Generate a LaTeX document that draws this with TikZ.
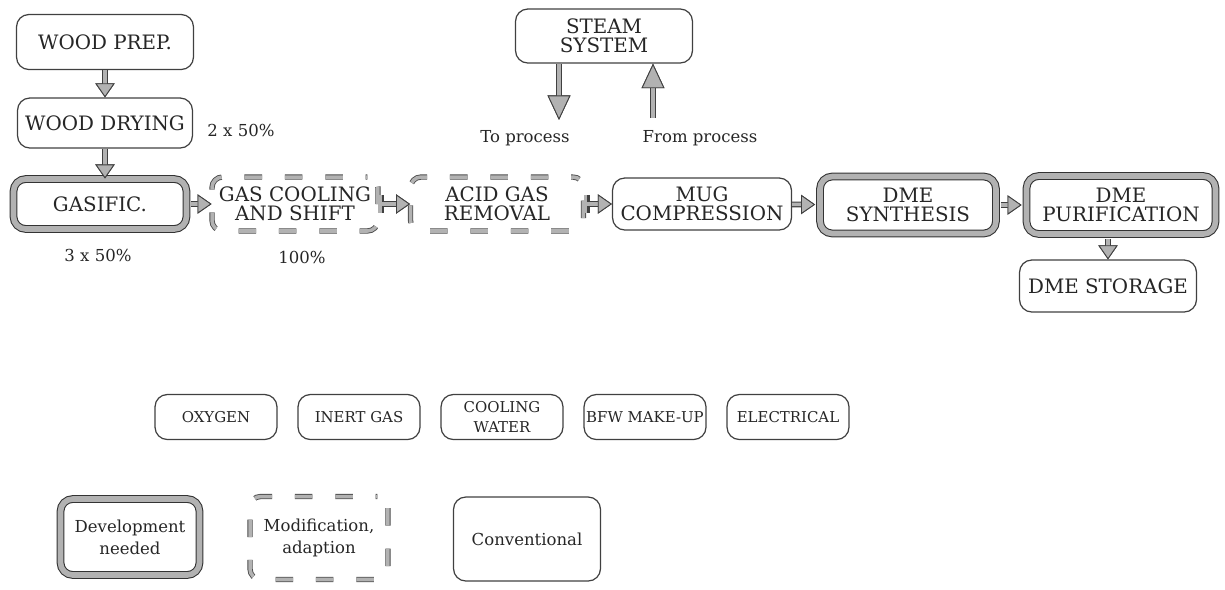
\documentclass[tikz,border=0pt]{standalone}
\usepackage{fontspec}
\setmainfont{DejaVu Serif}
\usetikzlibrary{arrows.meta}

\newcommand{\boxtxt}{\fontsize{11.3}{10.8}\selectfont}
\newcommand{\plaintxt}{\fontsize{9.4}{12.5}\selectfont}
\newcommand{\utiltxt}{\fontsize{8.5}{11}\selectfont}

\begin{document}
\begin{tikzpicture}[x=0.02cm, y=-0.02cm,
        every node/.style={font=\plaintxt, text=black!85},
        box/.style={draw=black!75, line width=0.7pt, rounded corners=7pt, align=center, inner sep=0pt, font=\boxtxt},
        devbox/.style={box, draw=black!80, line width=0.6pt, double=gray!60, double distance=3.2pt},
        modbox/.style={box, draw=black!70, line width=0.5pt, double=gray!60, double distance=2pt,
            rounded corners=6pt, dash pattern=on 10pt off 13pt, dash phase=9pt},
        utilbox/.style={box, font=\utiltxt, minimum width=2.44cm, minimum height=0.9cm},
        fatarrow/.style={->, >={Triangle[length=8pt, width=11pt, fill=gray!60, color=black!75, line width=0.5pt]},
            draw=gray!60, line width=2pt, preaction={draw=black!75, line width=3.2pt}},
        bigarrow/.style={fatarrow, >={Triangle[length=14pt, width=13pt, fill=gray!60, color=black!75, line width=0.5pt]}},
        bararrow/.style={fatarrow, {Bar[width=10pt]}->}
    ]
        \useasboundingbox (0,0) rectangle (1225,589);

        % main line
        \node[box, minimum width=3.54cm, minimum height=1.10cm] (prep) at (105,42) {WOOD PREP.};
        \node[box, minimum width=3.50cm, minimum height=1.00cm] (drying) at (105,123) {WOOD DRYING};
        \node[devbox, minimum width=3.46cm, minimum height=1.00cm] (gasific) at (100,204) {GASIFIC.};
        \node[modbox, minimum width=3.32cm, minimum height=1.08cm] (cool) at (295,204) {GAS COOLING\\AND SHIFT};
        \node[modbox, minimum width=3.46cm, minimum height=1.08cm] (acid) at (497,204) {ACID GAS\\REMOVAL};
        \node[box, minimum width=3.58cm, minimum height=1.04cm] (mug) at (702,204) {MUG\\COMPRESSION};
        \node[devbox, minimum width=3.52cm, minimum height=1.14cm] (synth) at (908,205) {DME\\SYNTHESIS};
        \node[devbox, minimum width=3.78cm, minimum height=1.16cm] (purif) at (1121,205) {DME\\PURIFICATION};
        \node[box, minimum width=3.54cm, minimum height=1.04cm] (storage) at (1108,286) {DME STORAGE};

        \node[] (drypct) at (241,130) {2 x 50\%};
        \node[] (gaspct) at (98,255) {3 x 50\%};
        \node[] (coolpct) at (302,257) {100\%};

        \draw[fatarrow] (prep) -- (drying);
        \draw[fatarrow] (drying.south) -- (drying.south |- gasific.north);
        \draw[fatarrow, shorten <=2.5pt] (gasific) -- (cool);
        \draw[bararrow] (cool) -- (acid);
        \draw[bararrow] (acid) -- (mug);
        \draw[fatarrow, shorten >=2.5pt] (mug) -- (synth);
        \draw[fatarrow, shorten <=2.5pt, shorten >=2.5pt] (synth) -- (purif);
        \draw[fatarrow, shorten <=2.5pt] (storage.north |- purif.south) -- (storage.north);

        % steam
        \node[box, minimum width=3.54cm, minimum height=1.08cm] (steam) at (604,36) {STEAM\\SYSTEM};
        \coordinate (toproc) at (559,120);
        \coordinate (fromproc) at (653,118);
        \node[] (totxt) at (525,138) {To process};
        \node[] (fromtxt) at (700,138) {From process};
        \draw[bigarrow] (steam.south -| toproc) -- (toproc);
        \draw[bigarrow] (fromproc) -- (fromproc |- steam.south);

        % utilities
        \foreach \nm/\txt [count=\i from 0] in {oxy/OXYGEN, inert/INERT GAS, cw/{COOLING\\WATER}, bfw/BFW MAKE-UP, elec/ELECTRICAL}{
            \node[utilbox] (\nm) at (216+143*\i,417) {\txt};
            }

        % legend
        \node[devbox, font=\plaintxt, minimum width=2.78cm, minimum height=1.52cm] (legdev) at (130,537) {Development\\needed};
        \node[modbox, font=\plaintxt, minimum width=2.76cm, minimum height=1.66cm] (legmod) at (319,538) {Modification,\\adaption};
        \node[box, font=\plaintxt, minimum width=2.94cm, minimum height=1.68cm] (legconv) at (527,539) {Conventional};
    \end{tikzpicture}
\end{document}
